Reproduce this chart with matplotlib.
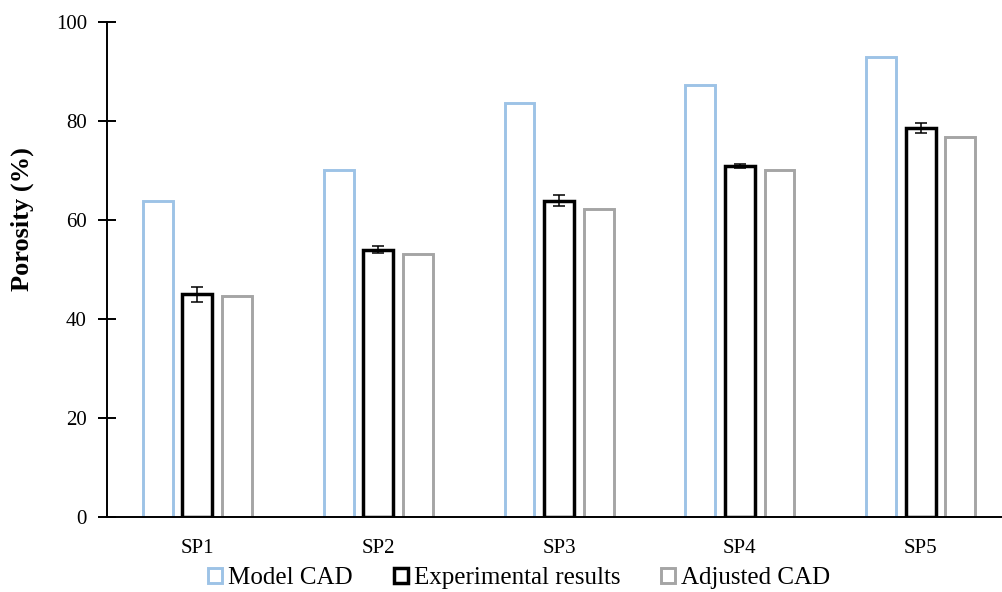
import matplotlib
matplotlib.use("Agg")
import matplotlib.pyplot as plt
import numpy as np

categories = ["SP1", "SP2", "SP3", "SP4", "SP5"]
model_cad = [63.9, 70.0, 83.7, 87.2, 93.0]
experimental = [45.0, 54.0, 63.9, 70.9, 78.5]
experimental_err = [1.5, 0.7, 1.1, 0.4, 1.0]
adjusted_cad = [44.6, 53.2, 62.2, 70.0, 76.7]
y_ticks = [0, 20, 40, 60, 80, 100]

plt.rcParams["font.family"] = ["Liberation Serif", "DejaVu Serif"]

W, H = 1003, 592
fig = plt.figure(figsize=(W / 100, H / 100), dpi=100)
ax = fig.add_axes([107 / W, (H - 516.7) / H, (W - 107) / W, (516.7 - 22) / H])

x = np.arange(len(categories))
width = 0.165
offset = 0.219

ax.bar(x - offset, model_cad, width, facecolor="white", edgecolor="#9DC3E6",
       linewidth=2.1, label="Model CAD", zorder=2)
ax.bar(x, experimental, width, facecolor="white", edgecolor="black",
       linewidth=2.5, label="Experimental results", zorder=2)
ax.bar(x + offset, adjusted_cad, width, facecolor="white", edgecolor="#A5A5A5",
       linewidth=2.1, label="Adjusted CAD", zorder=2)
ax.errorbar(x, experimental, yerr=experimental_err, fmt="none", ecolor="black",
            elinewidth=1.1, capsize=4.3, capthick=1.1, zorder=3)

ax.set_xlim(-0.5, (W - 198) / 180.7)
ax.set_ylim(0, 100)
ax.set_yticks(y_ticks)
ax.set_xticks(x)
ax.set_xticklabels(categories)

for s in ["top", "right"]:
    ax.spines[s].set_visible(False)
ax.spines["left"].set_linewidth(1.4)
ax.spines["bottom"].set_linewidth(1.4)
ax.tick_params(axis="y", direction="inout", length=13, width=1.4, labelsize=15, pad=8)
ax.tick_params(axis="x", length=0, labelsize=15, pad=16)

fig.text(22 / W, 1 - 219 / H, "Porosity (%)", rotation=90, ha="center", va="center",
         fontsize=19, fontweight="bold")

ax.legend(loc="center", bbox_to_anchor=(519 / W, 1 - 578 / H),
          bbox_transform=fig.transFigure, ncol=3, frameon=False,
          fontsize=18, handlelength=0.56, handleheight=0.56,
          handletextpad=0.24, columnspacing=1.64, borderaxespad=0)

fig.savefig("out.png", dpi=100)
